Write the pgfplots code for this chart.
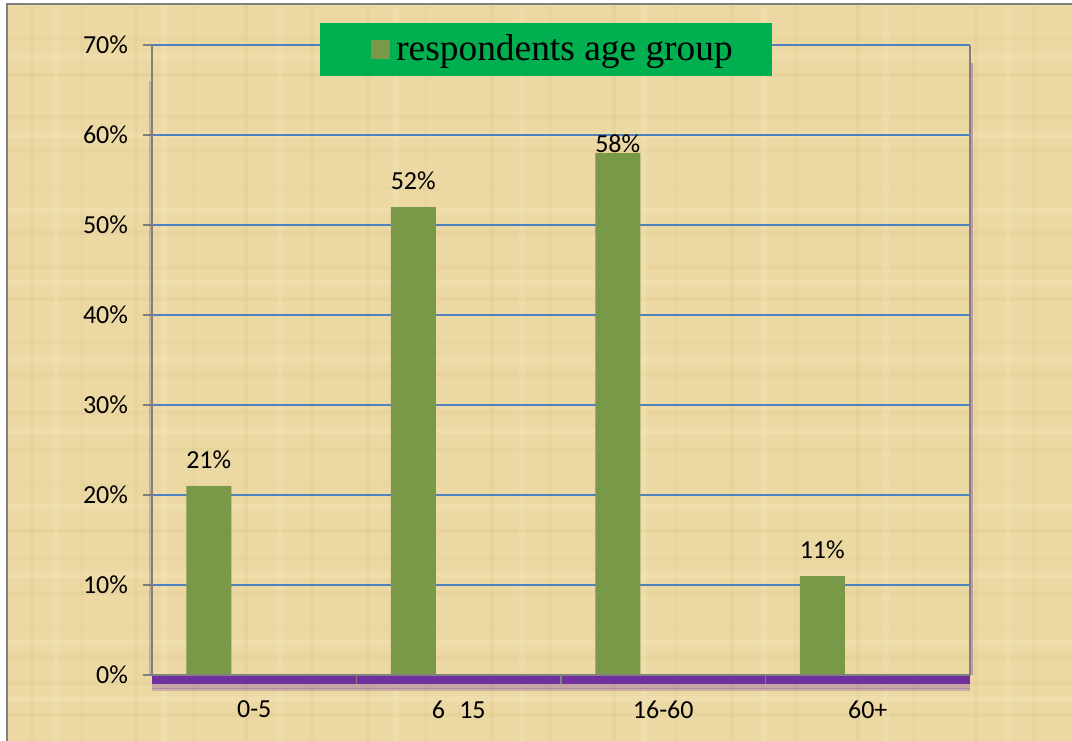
\documentclass[border=0pt]{standalone}
\usepackage{pgfplots}
\pgfplotsset{compat=1.18}
\usepackage{fontspec}
\setmainfont{Carlito}
\newfontfamily\legendfont{Liberation Serif}

\definecolor{papyrus}{RGB}{236,216,163}
\definecolor{papyrusdark}{RGB}{196,168,104}
\definecolor{papyruslight}{RGB}{250,236,200}
\definecolor{barolive}{RGB}{122,153,72}
\definecolor{gridblue}{RGB}{79,129,189}
\definecolor{axispurple}{RGB}{112,48,160}
\definecolor{legendgreen}{RGB}{0,176,80}
\definecolor{framegray}{RGB}{128,128,128}

\begin{document}
\begin{tikzpicture}[x=1bp,y=1bp]
% page and paper-coloured background
\path[use as bounding box] (-76,-32.5) rectangle (460,337.5);
\fill[white] (-78,-34) rectangle (462,339);
\fill[papyrus] (-72,-34) rectangle (462,335);
% light fibre texture of the paper
\begin{scope}
\clip (-72,-34) rectangle (462,335);
\foreach \y/\o in {-20/0.10, -4/0.07, 9/0.12, 23/0.06, 41/0.10, 58/0.08, 72/0.11, 95/0.06, 113/0.10, 131/0.07, 150/0.12, 166/0.06, 188/0.09, 204/0.07, 221/0.11, 243/0.06, 262/0.10, 279/0.08, 300/0.11, 318/0.07}
  \draw[papyrusdark, opacity=\o, line width=2.2bp] (-72,\y) -- (462,\y);
\foreach \y/\o in {-12/0.25, 16/0.2, 50/0.25, 84/0.2, 122/0.25, 158/0.2, 196/0.22, 232/0.2, 270/0.25, 309/0.2}
  \draw[papyruslight, opacity=\o, line width=3bp] (-72,\y) -- (462,\y);
\foreach \x/\o in {-60/0.08, -35/0.06, -8/0.10, 21/0.06, 47/0.09, 80/0.07, 108/0.10, 137/0.06, 170/0.09, 199/0.07, 231/0.10, 262/0.06, 290/0.09, 322/0.07, 353/0.10, 381/0.06, 412/0.09, 441/0.07}
  \draw[papyrusdark, opacity=\o, line width=2bp] (\x,-34) -- (\x,335);
\foreach \x/\o in {-48/0.2, 6/0.25, 64/0.2, 122/0.22, 185/0.2, 246/0.25, 306/0.2, 367/0.22, 428/0.2}
  \draw[papyruslight, opacity=\o, line width=3bp] (\x,-34) -- (\x,335);
\end{scope}
\draw[framegray, line width=1bp] (-72.25,-34) -- (-72.25,335.25) -- (462,335.25);

\begin{axis}[
  at={(0,0)}, anchor=south west,
  scale only axis, width=409bp, height=315bp,
  clip=false,
  xmin=-0.5, xmax=3.5, ymin=0, ymax=70,
  axis line style={draw=none},
  ybar, bar width=22.5bp, bar shift=-22.75bp,
  ytick={0,10,...,70}, ytick pos=left,
  yticklabel={\pgfmathprintnumber{\tick}\%},
  ymajorgrids, grid style={gridblue, line width=0.75bp},
  tick align=outside, major tick length=4.5bp,
  ytick style={framegray, line width=0.75bp},
  xtick={0,1,2,3},
  xticklabels={0-5, 6\hspace{0.55em}15, 16-60, 60+},
  xtick style={draw=none},
  /pgf/number format/assume math mode=true,
  tick label style={font=\fontsize{13bp}{15bp}\selectfont, text=black},
  xticklabel style={yshift=-5bp},
  yticklabel style={xshift=-4bp},
  legend style={at={(axis description cs:0.4817,0.9929)}, anchor=center,
    fill=legendgreen, draw=none,
    font=\legendfont\fontsize{18.7bp}{20bp}\selectfont,
    inner xsep=17.5bp, inner ysep=4bp},
  legend image code/.code={\path (0bp,0bp); \fill[barolive] (8bp,-4.75bp) rectangle (17.5bp,4.75bp);},
  nodes near coords={\pgfmathprintnumber{\pgfplotspointmeta}\%},
  visualization depends on={\thisrow{dy} \as \labeldy},
  every node near coord/.append style={font=\fontsize{13bp}{15bp}\selectfont, text=black, yshift=\labeldy bp},
]
\addplot[fill=barolive, draw=none] table[x=x, y=y] {
x y  dy
0 21 5.2
1 52 5.2
2 58 -3.3
3 11 5.2
};
\addlegendentry{\hspace{1bp}respondents age group}

% purple base band under the category axis, with a soft lower edge
\draw[axispurple, line width=2.5bp, opacity=0.3] ([yshift=-5.6bp]axis cs:-0.5,0) -- ([yshift=-5.6bp]axis cs:3.5,0);
\draw[axispurple, line width=1.5bp, opacity=0.25] ([yshift=-7.2bp]axis cs:-0.5,0) -- ([yshift=-7.2bp]axis cs:3.5,0);
\draw[axispurple, line width=4.2bp] ([yshift=-2.4bp]axis cs:-0.5,0) -- ([yshift=-2.4bp]axis cs:3.5,0);
% faint purple shade beside the side lines
\draw[axispurple, line width=0.8bp, opacity=0.25] ([xshift=-1.1bp]axis cs:-0.5,0) -- ([xshift=-1.1bp]axis cs:-0.5,66);
\draw[axispurple, line width=1bp, opacity=0.35] ([xshift=1.1bp]axis cs:3.5,0) -- ([xshift=1.1bp]axis cs:3.5,68);
% axis frame lines
\draw[framegray, line width=0.75bp] (axis cs:-0.5,70) -- (axis cs:-0.5,0) -- (axis cs:3.5,0) -- (axis cs:3.5,70);
% separators between categories
\draw[framegray, line width=0.75bp] (axis cs:0.5,0) -- ([yshift=-4.5bp]axis cs:0.5,0);
\draw[framegray, line width=0.75bp] (axis cs:1.5,0) -- ([yshift=-4.5bp]axis cs:1.5,0);
\draw[framegray, line width=0.75bp] (axis cs:2.5,0) -- ([yshift=-4.5bp]axis cs:2.5,0);
\end{axis}
\end{tikzpicture}
\end{document}
